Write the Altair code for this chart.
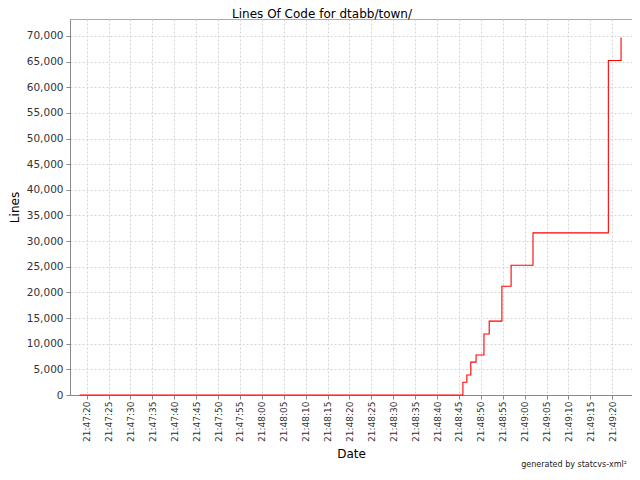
import altair as alt
import pandas as pd

# Data (time of day, lines of code)
times = [
    "2000-01-01T21:47:18.4",
    "2000-01-01T21:48:45.9",
    "2000-01-01T21:48:46.8",
    "2000-01-01T21:48:47.7",
    "2000-01-01T21:48:48.9",
    "2000-01-01T21:48:50.7",
    "2000-01-01T21:48:51.9",
    "2000-01-01T21:48:54.8",
    "2000-01-01T21:48:56.9",
    "2000-01-01T21:49:01.9",
    "2000-01-01T21:49:19.1",
    "2000-01-01T21:49:22.0",
]
lines = [0, 2500, 3900, 6400, 7800, 11900, 14400, 21200, 25300, 31600, 65200, 69700]
y_ticks = list(range(0, 70001, 5000))
x_tick_labels = [
    "21:47:20", "21:47:25", "21:47:30", "21:47:35", "21:47:40", "21:47:45",
    "21:47:50", "21:47:55", "21:48:00", "21:48:05", "21:48:10", "21:48:15",
    "21:48:20", "21:48:25", "21:48:30", "21:48:35", "21:48:40", "21:48:45",
    "21:48:50", "21:48:55", "21:49:00", "21:49:05", "21:49:10", "21:49:15",
    "21:49:20",
]

title_text = "Lines Of Code for dtabb/town/"
footer_text = "generated by statcvs-xml\u00b2"

df = pd.DataFrame({"Date": times, "Lines": lines})


def dt(hms, ms=0):
    h, m, s = (int(v) for v in hms.split(":"))
    return alt.DateTime(year=2000, month=1, date=1, hours=h, minutes=m, seconds=s, milliseconds=ms)


x_values = [dt(t) for t in x_tick_labels]

FONT = "DejaVu Sans"

x_scale = alt.Scale(domain=[dt("21:47:16", 200), dt("21:49:24", 500)])

line = alt.Chart(df).mark_line(
    interpolate="step-after", color="#ff0000", strokeWidth=1.1
).encode(
    x=alt.X(
        "Date:T",
        scale=x_scale,
        axis=alt.Axis(
            title="Date",
            format="%H:%M:%S",
            values=x_values,
            labelAngle=270,
            labelAlign="right",
            labelBaseline="middle",
            labelPadding=2,
            tickSize=4,
            titlePadding=7,
            labelFlush=False,
            labelOverlap=False,
        ),
    ),
    y=alt.Y(
        "Lines:Q",
        scale=alt.Scale(domain=[0, 73300], nice=False),
        axis=alt.Axis(
            title="Lines",
            values=y_ticks,
            format=",d",
            tickSize=4,
            labelPadding=3,
            titlePadding=5,
            labelFlush=False,
        ),
    ),
)

footer = alt.Chart(pd.DataFrame({"t": [footer_text]})).mark_text(
    align="right", baseline="alphabetic", font=FONT, fontSize=8, color="#222222"
).encode(
    text="t:N",
    x=alt.value(557),
    y=alt.value(448),
)

chart = alt.layer(line, footer).properties(
    width=562,
    height=376,
    title=alt.TitleParams(
        title_text,
        anchor="middle",
        dx=-29,
        dy=4,
        offset=2,
        font=FONT,
        fontSize=12,
        fontWeight="normal",
        color="#000000",
    ),
    autosize=alt.AutoSizeParams(type="none"),
    padding={"left": 62, "top": 11, "right": 0, "bottom": 77},
).configure_view(
    stroke="#aaaaaa", strokeWidth=1
).configure_axis(
    labelFont=FONT,
    titleFont=FONT,
    labelFontSize=10.5,
    titleFontSize=12,
    titleFontWeight="normal",
    labelColor="#333333",
    titleColor="#000000",
    domainColor="#888888",
    tickColor="#888888",
    gridColor="#d4d4d4",
    gridDash=[2, 2],
    gridWidth=1,
).configure_axisX(
    labelFontSize=9,
)

chart.save("out.html", embed_options={"renderer": "svg", "actions": False})
